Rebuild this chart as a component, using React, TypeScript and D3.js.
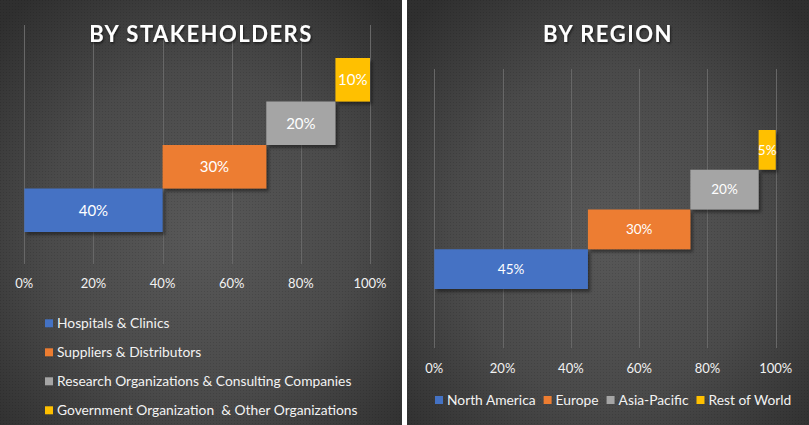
import React, { useEffect, useRef } from "react";
import * as d3 from "d3";

const stakeholderNames = [
  "Hospitals & Clinics",
  "Suppliers & Distributors",
  "Research Organizations & Consulting Companies",
  "Government Organization  & Other Organizations",
];
const stakeholderShares = [40, 30, 20, 10];
const regionNames = ["North America", "Europe", "Asia-Pacific", "Rest of World"];
const regionShares = [45, 30, 20, 5];
const tickValues = [0, 20, 40, 60, 80, 100];
const seriesColors = ["#4472C4", "#ED7D31", "#A5A5A5", "#FFC000"];

const W = 809;
const H = 425;
const FONT = "Lato, 'Open Sans', sans-serif";

type Panel = {
  title: string;
  names: string[];
  shares: number[];
  px0: number;
  px1: number;
  x0: number;
  x1: number;
  barTop: number;
  barBottom: number;
  gridTop: number;
  gridBottom: number;
  tickY: number;
  labelSize: number;
  legend: "column" | "row";
};

const panels: Panel[] = [
  {
    title: "BY STAKEHOLDERS",
    names: stakeholderNames,
    shares: stakeholderShares,
    px0: 0,
    px1: 402,
    x0: 24.3,
    x1: 370,
    barTop: 58,
    barBottom: 232,
    gridTop: 25,
    gridBottom: 264,
    tickY: 283,
    labelSize: 15,
    legend: "column",
  },
  {
    title: "BY REGION",
    names: regionNames,
    shares: regionShares,
    px0: 407,
    px1: 809,
    x0: 434.3,
    x1: 775.7,
    barTop: 130,
    barBottom: 289,
    gridTop: 69,
    gridBottom: 348,
    tickY: 368,
    labelSize: 13.5,
    legend: "row",
  },
];

export default function App() {
  const ref = useRef<SVGSVGElement | null>(null);

  useEffect(() => {
    const svg = d3.select(ref.current);
    svg.selectAll("*").remove();

    const defs = svg.append("defs");
    const grad = defs
      .append("radialGradient")
      .attr("id", "bg")
      .attr("cx", "50%")
      .attr("cy", "55%")
      .attr("r", "70%");
    grad.append("stop").attr("offset", "0%").attr("stop-color", "#585858");
    grad.append("stop").attr("offset", "55%").attr("stop-color", "#4a4a4a");
    grad.append("stop").attr("offset", "100%").attr("stop-color", "#2f2f2f");

    const pat = defs
      .append("pattern")
      .attr("id", "dots")
      .attr("width", 3)
      .attr("height", 3)
      .attr("patternUnits", "userSpaceOnUse");
    pat.append("rect").attr("width", 1).attr("height", 1).attr("fill", "rgba(0,0,0,0.12)");

    const sh = defs.append("filter").attr("id", "shadow").attr("x", "-20%").attr("y", "-20%").attr("width", "150%").attr("height", "150%");
    sh.append("feDropShadow")
      .attr("dx", 2.5)
      .attr("dy", 3)
      .attr("stdDeviation", 1.8)
      .attr("flood-color", "#000")
      .attr("flood-opacity", 0.4);

    const tsh = defs.append("filter").attr("id", "tshadow").attr("x", "-10%").attr("y", "-30%").attr("width", "130%").attr("height", "170%");
    tsh.append("feDropShadow")
      .attr("dx", 1)
      .attr("dy", 1.5)
      .attr("stdDeviation", 1)
      .attr("flood-color", "#000")
      .attr("flood-opacity", 0.6);

    svg.append("rect").attr("width", W).attr("height", H).attr("fill", "#ffffff");

    panels.forEach((p) => {
      const g = svg.append("g");
      g.append("rect")
        .attr("x", p.px0)
        .attr("y", 0)
        .attr("width", p.px1 - p.px0)
        .attr("height", H)
        .attr("fill", "url(#bg)");
      g.append("rect")
        .attr("x", p.px0)
        .attr("y", 0)
        .attr("width", p.px1 - p.px0)
        .attr("height", H)
        .attr("fill", "url(#dots)");

      const x = d3.scaleLinear().domain([0, 100]).range([p.x0, p.x1]);
      const y = d3
        .scaleBand<string>()
        .domain(p.names)
        .range([p.barBottom, p.barTop])
        .padding(0);

      // gridlines
      g.append("g")
        .selectAll("line")
        .data(tickValues)
        .join("line")
        .attr("x1", (d) => Math.round(x(d)) + 0.5)
        .attr("x2", (d) => Math.round(x(d)) + 0.5)
        .attr("y1", p.gridTop)
        .attr("y2", p.gridBottom)
        .attr("stroke", "#676767")
        .attr("stroke-width", 1);

      const cx = (p.px0 + p.px1) / 2;
      g.append("text")
        .attr("x", cx)
        .attr("y", 42)
        .attr("text-anchor", "middle")
        .attr("font-family", FONT)
        .attr("font-weight", 700)
        .attr("font-size", 22)
        .attr("letter-spacing", 1.5)
        .attr("fill", "#ffffff")
        .attr("filter", "url(#tshadow)")
        .text(p.title);

      // tick labels
      g.append("g")
        .selectAll("text")
        .data(tickValues)
        .join("text")
        .attr("x", (d) => x(d))
        .attr("y", p.tickY)
        .attr("dy", "0.35em")
        .attr("text-anchor", "middle")
        .attr("font-family", FONT)
        .attr("font-size", 13)
        .attr("fill", "#f2f2f2")
        .text((d) => `${d}%`);

      const starts = [0, ...Array.from(d3.cumsum(p.shares))].slice(0, p.shares.length);
      const rows = p.names.map((n, i) => ({ name: n, v: p.shares[i], s: starts[i], c: seriesColors[i] }));

      const bars = g.append("g").attr("filter", "url(#shadow)");
      bars
        .selectAll("rect")
        .data(rows)
        .join("rect")
        .attr("x", (d) => x(d.s))
        .attr("width", (d) => x(d.s + d.v) - x(d.s))
        .attr("y", (d) => y(d.name)!)
        .attr("height", y.bandwidth())
        .attr("fill", (d) => d.c);

      g.append("g")
        .selectAll("text")
        .data(rows)
        .join("text")
        .attr("x", (d) => x(d.s + d.v / 2))
        .attr("y", (d) => y(d.name)! + y.bandwidth() / 2)
        .attr("dy", "0.35em")
        .attr("text-anchor", "middle")
        .attr("font-family", FONT)
        .attr("font-size", p.labelSize)
        .attr("fill", "#ffffff")
        .text((d) => `${d.v}%`);

      // legend
      const lg = g.append("g").attr("font-family", FONT).attr("fill", "#f2f2f2");
      if (p.legend === "column") {
        rows.forEach((d, i) => {
          const cy = 323.3 + i * 29;
          lg.append("rect").attr("x", 45).attr("y", cy - 4).attr("width", 8).attr("height", 8).attr("fill", d.c);
          lg.append("text")
            .attr("x", 57)
            .attr("y", cy)
            .attr("dy", "0.35em")
            .attr("font-size", 13.8)
            .attr("fill", "#f2f2f2")
            .style("white-space", "pre")
            .text(d.name);
        });
      } else {
        let cur = 435;
        const cy = 400;
        rows.forEach((d) => {
          lg.append("rect").attr("x", cur).attr("y", cy - 4).attr("width", 8).attr("height", 8).attr("fill", d.c);
          const t = lg
            .append("text")
            .attr("x", cur + 12)
            .attr("y", cy)
            .attr("dy", "0.35em")
            .attr("font-size", 13.8)
            .attr("fill", "#f2f2f2")
            .text(d.name);
          const w = (t.node() as SVGTextElement).getComputedTextLength();
          cur = cur + 12 + w + 8;
        });
      }
    });
  }, []);

  return (
    <svg
      ref={ref}
      width={W}
      height={H}
      style={{ position: "absolute", left: 0, top: 0, display: "block" }}
    />
  );
}
